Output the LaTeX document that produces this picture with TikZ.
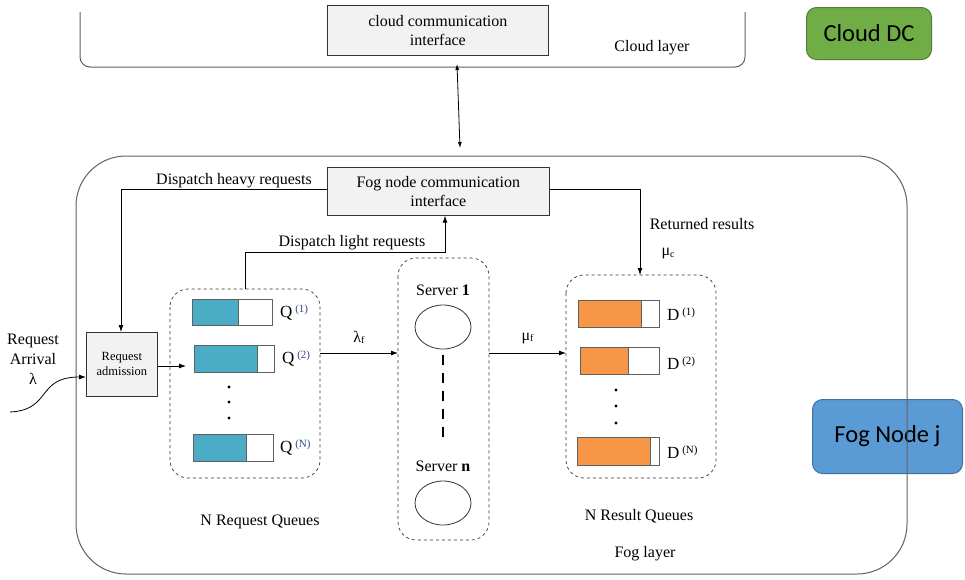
\documentclass[tikz,border=0pt]{standalone}
\usepackage{fontspec}
\setmainfont{Liberation Serif}
\newfontfamily\calfont{Carlito}
\usetikzlibrary{arrows.meta,shapes.geometric}
\definecolor{boxgray}{HTML}{F2F2F2}
\definecolor{tealq}{HTML}{4BACC6}
\definecolor{orangeq}{HTML}{F79646}
\definecolor{supblue}{HTML}{2F4A7A}
\definecolor{cloudgreen}{HTML}{70AD47}
\definecolor{cloudgreenb}{HTML}{507E32}
\definecolor{fogblue}{HTML}{5B9BD5}
\definecolor{fogblueb}{HTML}{41719C}
\definecolor{linegray}{HTML}{606060}
\tikzset{
  arr/.style={-{Latex[length=7pt,width=5pt]}, line width=0.8pt},
  graybox/.style={draw=black!80, fill=boxgray, line width=0.7pt, align=center, font=\fontsize{16}{19}\selectfont},
  dashbox/.style={draw=black!80, dashed, rounded corners=18pt, line width=0.7pt},
  lbl/.style={font=\fontsize{16}{18}\selectfont, inner sep=0pt},
  qlbl/.style={font=\fontsize{17}{18}\selectfont, inner sep=0pt, anchor=west},
  badge/.style={rounded corners=10pt, line width=1pt, font=\calfont\fontsize{24.5}{26}\selectfont, text=black},
  srv/.style={ellipse, draw=black!80, line width=0.8pt, minimum width=56pt, minimum height=44pt, inner sep=0pt},
}
\newcommand{\subf}[1]{\raisebox{-1.5pt}{\fontsize{10}{11}\selectfont #1}}
\newcommand{\supq}[1]{\raisebox{5pt}{\fontsize{11}{12}\selectfont #1}}
\begin{document}
\begin{tikzpicture}[x=1pt,y=-1pt]
\useasboundingbox (0,0) rectangle (965,579);

% ---- Cloud layer ----
\draw[linegray, line width=1pt, rounded corners=10pt] (80,12) -- (80,67) -- (745,67) -- (745,12);
\node[graybox, minimum width=221pt, minimum height=50pt, anchor=north west] (cci) at (327,5) {cloud communication\\interface};
\node[lbl] (cloudlbl) at (652,48) {Cloud layer};

% ---- badges ----
\node[badge, draw=cloudgreenb, fill=cloudgreen, minimum width=125pt, minimum height=52pt, anchor=north west] (cdc) at (806,7) {Cloud DC};
\node[badge, draw=fogblueb, fill=fogblue, minimum width=150pt, minimum height=74pt, anchor=north west] (fnj) at (812,399) {Fog Node j};

% ---- Fog layer ----
\draw[linegray, line width=1pt, rounded corners=50pt] (76,156) rectangle (907,574);
\coordinate (cloudbot) at (457,64);
\coordinate (fogtop) at (460,148);
\draw[{Latex[length=6pt,width=4pt]}-{Latex[length=6pt,width=4pt]}, line width=0.8pt] (cloudbot) -- (fogtop);
\node[lbl] (foglbl) at (645,554) {Fog layer};

\node[graybox, minimum width=222pt, minimum height=48pt, anchor=north west] (fci) at (327,167) {Fog node communication\\interface};

% ---- request admission ----
\node[graybox, minimum width=71pt, minimum height=64pt, anchor=north west, font=\fontsize{12.5}{15}\selectfont] (ra) at (86,332) {Request\\admission};
\node[lbl, align=center, font=\fontsize{16}{20}\selectfont] (arr) at (33,359) {Request\\Arrival\\λ};
\coordinate (src) at (10,412);
\draw[arr] (src) .. controls (52,410) and (36,377) .. (ra.west |- 0,377);

% ---- request queues ----
\draw[dashbox] (170,289) rectangle (320,478);
\coordinate (rqtop) at (245,289);
\node[lbl] (rqlbl) at (260,522) {N Request Queues};

\fill[tealq] (192,299) rectangle (238,325);
\draw[linegray, line width=0.9pt] (192,299) rectangle (272,325) (238,299) -- (238,325);
\fill[tealq] (194,345) rectangle (257,372);
\draw[linegray, line width=0.9pt] (194,345) rectangle (274,372) (257,345) -- (257,372);
\fill[tealq] (193,434) rectangle (246,461);
\draw[linegray, line width=0.9pt] (193,434) rectangle (273,461) (246,434) -- (246,461);
\coordinate (q2in) at (186,366);
\node[qlbl] (q1) at (280,313) {Q\,\supq{\color{supblue}(1)}};
\node[qlbl] (q2) at (282,359) {Q\,\supq{\color{supblue}(2)}};
\node[qlbl] (qn) at (280,448) {Q\,\supq{\color{supblue}(N)}};
\foreach \yy in {387,402,418} \fill (229,\yy) circle (1.6pt);

\draw[arr] (ra.east |- 0,366) -- (q2in);

% ---- servers ----
\draw[dashbox] (398,258) rectangle (489,540);
\node[lbl] (s1lbl) at (443,290) {Server \textbf{1}};
\node[srv] (s1) at (443,327) {};
\node[lbl] (snlbl) at (443,466) {Server \textbf{n}};
\node[srv] (sn) at (443,503) {};
\draw[line width=2.2pt, dash pattern=on 10pt off 8pt] (s1.south) ++(0,6) -- (443,437);

\coordinate (rqright) at (320,353);
\coordinate (srvleft) at (398,353);
\coordinate (srvright) at (489,353);
\coordinate (dsleft) at (566,353);
\draw[arr] (rqright) -- node[lbl, above=9pt] {λ\subf{f}} (srvleft);
\draw[arr] (srvright) -- node[lbl, above=9pt] {μ\subf{f}} (dsleft);

% ---- result queues ----
\draw[dashbox] (566,275) rectangle (716,478);
\coordinate (dstop) at (640,275);
\node[lbl] (dslbl) at (639,516) {N Result Queues};

\fill[orangeq] (578,300) rectangle (641,327);
\draw[linegray, line width=0.9pt] (578,300) rectangle (659,327) (641,300) -- (641,327);
\fill[orangeq] (580,347) rectangle (628,374);
\draw[linegray, line width=0.9pt] (580,347) rectangle (659,374) (628,347) -- (628,374);
\fill[orangeq] (577,437) rectangle (650,465);
\draw[linegray, line width=0.9pt] (577,437) rectangle (659,465) (650,437) -- (650,465);
\node[qlbl] (d1) at (667,314) {D\,\supq{(1)}};
\node[qlbl] (d2) at (667,363) {D\,\supq{(2)}};
\node[qlbl] (dn) at (667,452) {D\,\supq{(N)}};
\foreach \yy in {390,406,423} \fill (616,\yy) circle (1.6pt);

% ---- dispatch paths ----
\draw[arr] (fci.west |- 0,189) -- (121,189) -- (ra.north -| 121,0);
\node[lbl] (heavy) at (234,181) {Dispatch heavy requests};
\draw[arr] (rqtop) -- (245,252) -- (445,252) -- (fci.south -| 445,0);
\node[lbl] (light) at (352,243) {Dispatch light requests};
\draw[arr] (fci.east |- 0,189) -- (640,189) -- (dstop);
\node[lbl] (ret) at (702,224) {Returned results};
\node[lbl] (muc) at (668,254) {μ\subf{c}};
\end{tikzpicture}
\end{document}
